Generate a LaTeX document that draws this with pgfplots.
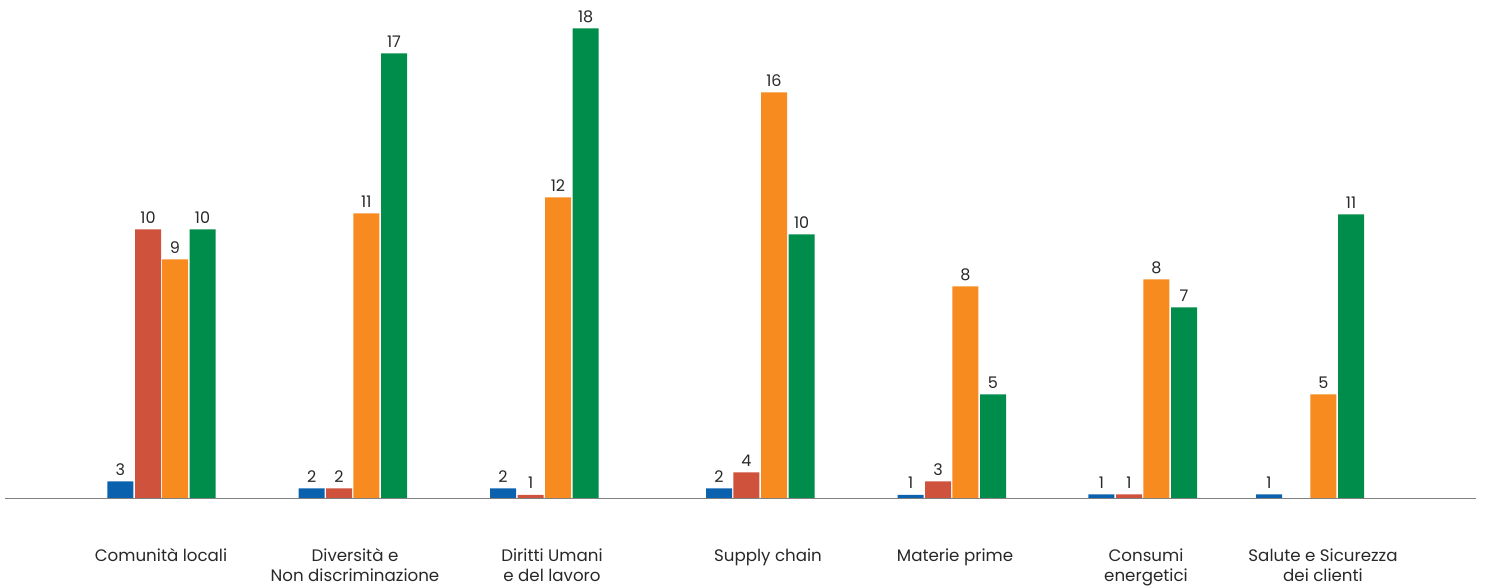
\documentclass[border=0pt]{standalone}
\usepackage{fontspec}
\setmainfont{Poppins}
\usepackage{pgfplots}
\pgfplotsset{compat=1.18}
\definecolor{cblue}{RGB}{10,98,174}
\definecolor{cred}{RGB}{207,82,61}
\definecolor{corange}{RGB}{247,139,31}
\definecolor{cgreen}{RGB}{0,140,74}
\definecolor{cline}{RGB}{128,128,128}
\definecolor{ctext}{RGB}{40,40,40}
\begin{document}
\begin{tikzpicture}
\begin{axis}[
    scale only axis,
    width=1103.25pt, height=373.875pt,
    xmin=5, xmax=1476, ymin=0, ymax=498.5,
    axis x line*=bottom, axis y line=none,
    x axis line style={draw=none},
    major tick length=0pt,
    clip=false,
    ybar, bar width=26, bar shift=0pt,
    xtick={161,355,552,768,955,1146,1323},
    xticklabels={Comunità locali, Diversità e\\Non discriminazione, Diritti Umani\\e del lavoro, Supply chain, Materie prime, Consumi\\energetici, Salute e Sicurezza\\dei clienti},
    xticklabel style={align=center, inner sep=0pt, font=\fontsize{12.5}{14.8}\selectfont, text=ctext, yshift=-37.5pt},
    ytick=\empty,
    nodes near coords,
    point meta=explicit symbolic,
    every node near coord/.append style={font=\fontsize{12}{14}\selectfont, text=ctext, yshift=1pt},
]
\addplot[fill=cblue, draw=none] coordinates {
    (120.3,17) [3] (311.7,10) [2] (503,10) [2] (719,10) [2]
    (910.7,3.5) [1] (1101.3,4) [1] (1269,4) [1]};
\addplot[fill=cred, draw=none] coordinates {
    (148,269) [10] (339,10) [2] (530.7,3.5) [1] (746.3,26) [4]
    (938,17) [3] (1129,4) [1]};
\addplot[fill=corange, draw=none] coordinates {
    (175,239) [9] (366.3,285) [11] (558,301) [12] (774,406) [16]
    (965.3,212) [8] (1156.3,219) [8] (1323.3,104) [5]};
\addplot[fill=cgreen, draw=none] coordinates {
    (202.5,269) [10] (394,445) [17] (585.7,470) [18] (801.7,264) [10]
    (993,104) [5] (1184,191) [7] (1351,284) [11]};
\draw[cline, line width=1pt] (axis cs:5,0) -- (axis cs:1476,0);
\path (axis cs:0,-85.5) rectangle (axis cs:1486,498.5);
\end{axis}
\end{tikzpicture}
\end{document}
